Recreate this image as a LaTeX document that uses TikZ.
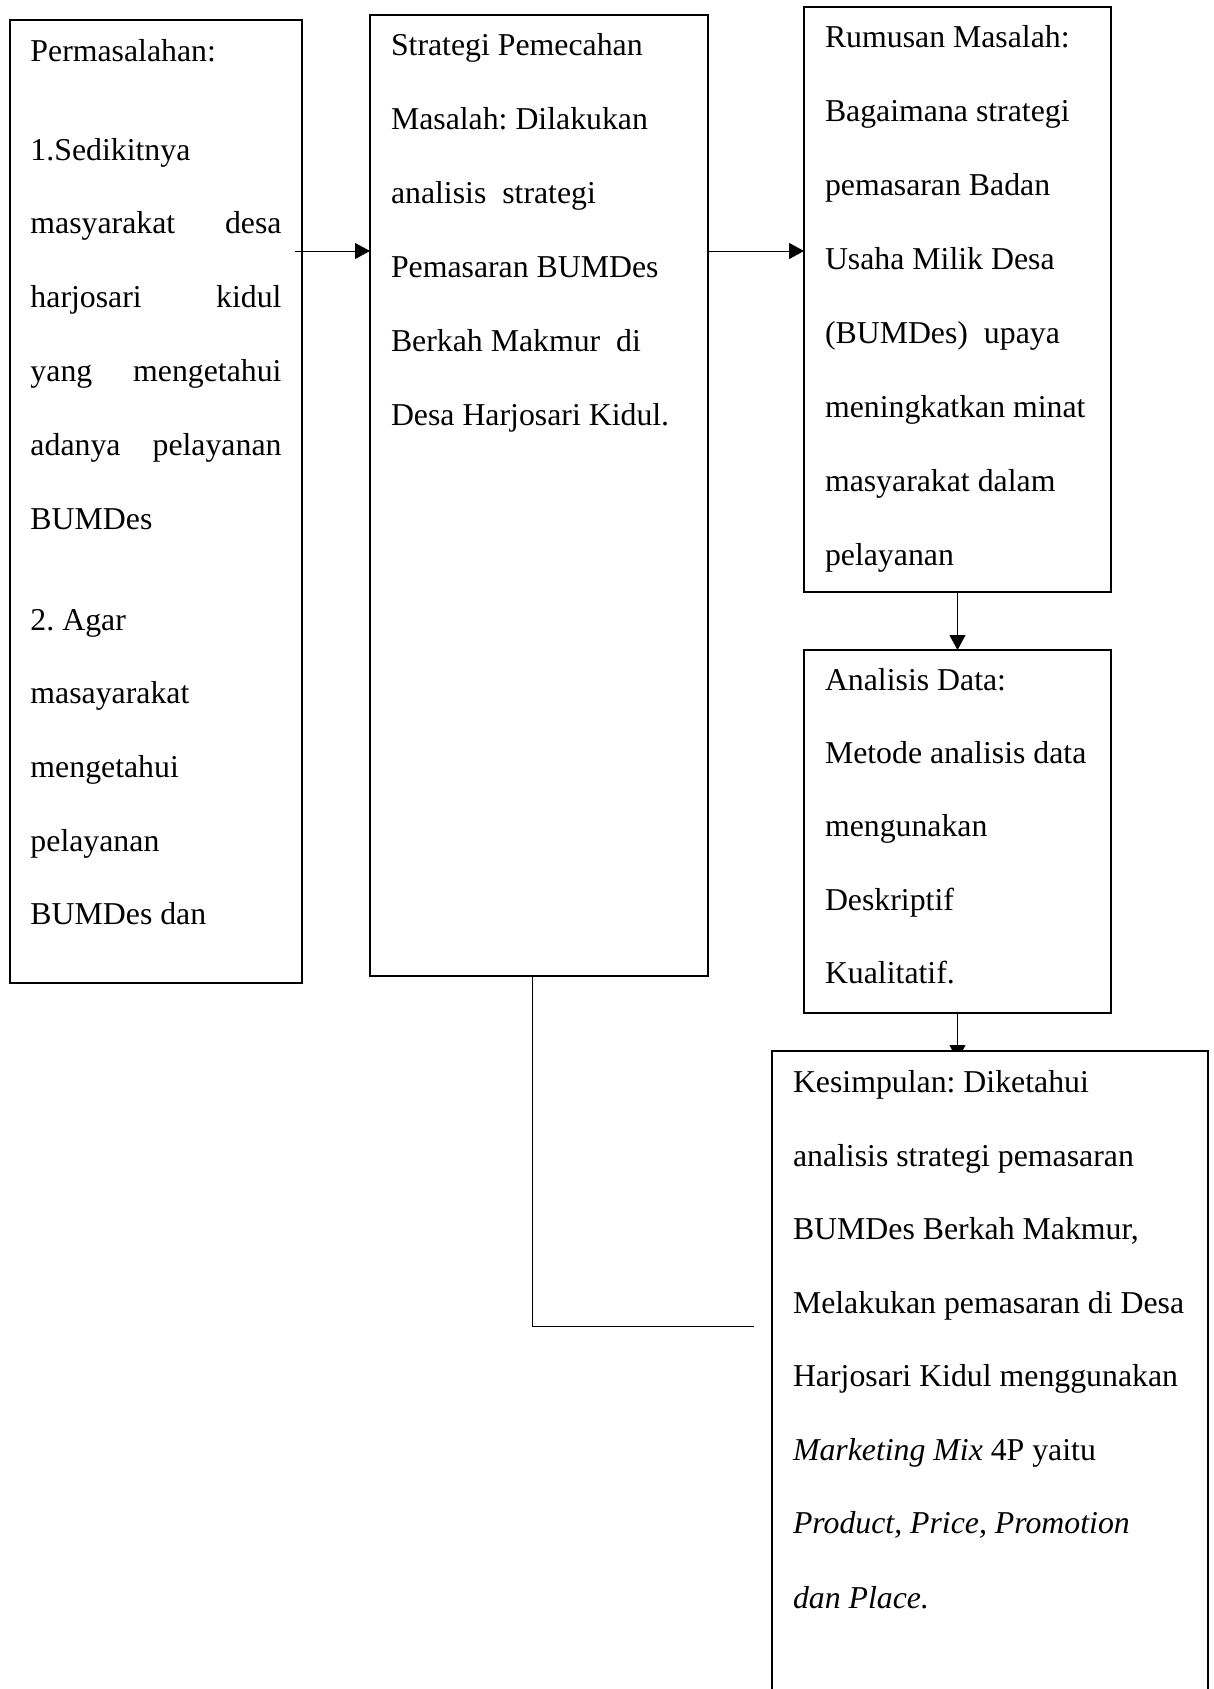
\documentclass[tikz,border=0pt]{standalone}
\usepackage{fontspec}
\setmainfont{Liberation Serif}
\usetikzlibrary{arrows.meta}
\frenchspacing
\newcommand{\bodyfont}{\fontsize{31.8}{38}\selectfont}
\tikzset{
  box/.style={draw=black, line width=1.6pt, inner sep=0pt, outer sep=0pt, fill=white},
  txt/.style={anchor=base west, inner sep=0pt, outer sep=0pt, font=\bodyfont},
  conn/.style={draw=black, line width=1pt},
  arr/.style={conn, -{Triangle[length=15pt,width=16pt]}}
}
\begin{document}
\begin{tikzpicture}[x=1pt,y=-1pt]
\useasboundingbox (0,0) rectangle (1214,1689);
\clip (0,0) rectangle (1214,1689);
% boxes
\node[box, minimum width=292pt, minimum height=963pt] (b1) at (156,501.5) {};
\node[box, minimum width=338pt, minimum height=961pt] (b2) at (539,495.5) {};
\node[box, minimum width=307pt, minimum height=585pt] (b3) at (957.5,299.5) {};
\node[box, minimum width=307pt, minimum height=363pt] (b4) at (957.5,831.5) {};
% connectors
\coordinate (c1) at (295,251);
\draw[arr] (c1) -- (c1 -| b2.west);
\draw[arr] (c1 -| b2.east) -- (c1 -| b3.west);
\draw[arr] (b3.south) -- (b4.north);
\coordinate (c3) at (532,1326);
\coordinate (c2) at (754,1326);
\draw[conn] (c3 |- b2.south) -- (c3) -- (c2);
\coordinate (c4) at (957.5,1060);
\draw[arr] (b4.south) -- (c4);
\node[box, minimum width=436pt, minimum height=680pt, anchor=north west] (b5) at (772,1051) {};
% box 1 text
\node[txt] (t1a) at (30.5,61) {Permasalahan:};
\node[txt] (t1b) at (30.5,160) {1.Sedikitnya};
\node[txt] (t1c) at (30.5,233.8) {\makebox[251pt][s]{masyarakat desa}};
\node[txt] (t1d) at (30.5,307.6) {\makebox[251pt][s]{harjosari kidul}};
\node[txt] (t1e) at (30.5,381.4) {\makebox[251pt][s]{yang mengetahui}};
\node[txt] (t1f) at (30.5,455.2) {\makebox[251pt][s]{adanya pelayanan}};
\node[txt] (t1g) at (30.5,529) {BUMDes};
\node[txt] (t1h) at (30.5,630) {2. Agar};
\node[txt] (t1i) at (30.5,703.8) {masayarakat};
\node[txt] (t1j) at (30.5,777.6) {mengetahui};
\node[txt] (t1k) at (30.5,851.4) {pelayanan};
\node[txt] (t1l) at (30.5,924) {BUMDes dan};
% box 2 text
\node[txt] (t2a) at (391,55) {Strategi Pemecahan};
\node[txt] (t2b) at (391,129) {Masalah: Dilakukan};
\node[txt] (t2c) at (391,203) {analisis\ \ strategi};
\node[txt] (t2d) at (391,277) {Pemasaran BUMDes};
\node[txt] (t2e) at (391,351) {Berkah Makmur\ \ di};
\node[txt] (t2f) at (391,425) {Desa Harjosari Kidul.};
% box 3 text
\node[txt] (t3a) at (825,47) {Rumusan Masalah:};
\node[txt] (t3b) at (825,121) {Bagaimana strategi};
\node[txt] (t3c) at (825,195) {pemasaran Badan};
\node[txt] (t3d) at (825,269) {Usaha Milik Desa};
\node[txt] (t3e) at (825,343) {(BUMDes)\ \ upaya};
\node[txt] (t3f) at (825,417) {meningkatkan minat};
\node[txt] (t3g) at (825,491) {masyarakat dalam};
\node[txt] (t3h) at (825,565) {pelayanan};
% box 4 text
\node[txt] (t4a) at (825,690) {Analisis Data:};
\node[txt] (t4b) at (825,763) {Metode analisis data};
\node[txt] (t4c) at (825,836.5) {mengunakan};
\node[txt] (t4d) at (825,910) {Deskriptif};
\node[txt] (t4e) at (825,983) {Kualitatif.};
% box 5 text
\node[txt] (t5a) at (793,1092) {Kesimpulan: Diketahui};
\node[txt] (t5b) at (793,1166) {analisis strategi pemasaran};
\node[txt] (t5c) at (793,1239.5) {BUMDes Berkah Makmur,};
\node[txt] (t5d) at (793,1313) {Melakukan pemasaran di Desa};
\node[txt] (t5e) at (793,1386.5) {Harjosari Kidul menggunakan};
\node[txt] (t5f) at (793,1460) {\textit{Marketing Mix} 4P yaitu};
\node[txt] (t5g) at (793,1533.5) {\textit{Product, Price, Promotion}};
\node[txt] (t5h) at (793,1608) {\textit{dan Place.}};
\end{tikzpicture}
\end{document}
